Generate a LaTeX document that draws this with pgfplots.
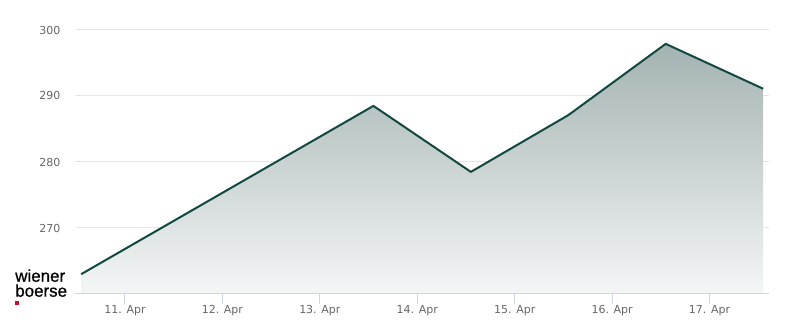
\documentclass[border=0pt]{standalone}
\usepackage{fontspec}
\setmainfont{DejaVu Sans}
\newfontfamily\logofont[FakeBold=0.8]{Liberation Sans}
\usepackage{pgfplots}
\pgfplotsset{compat=1.18}
\definecolor{linec}{RGB}{17,72,66}
\definecolor{topc}{RGB}{163,179,177}
\definecolor{botc}{RGB}{244,246,246}
\definecolor{gridc}{RGB}{230,230,230}
\definecolor{axisc}{RGB}{204,214,235}
\definecolor{labc}{RGB}{102,102,102}
\definecolor{wbred}{RGB}{200,16,46}
\begin{document}
\begin{tikzpicture}
\useasboundingbox (0,0) rectangle (600pt,243pt);
\begin{axis}[
  scale only axis,
  width=520.5pt, height=212.85pt,
  at={(56.25pt,22.5pt)}, anchor=south west,
  xmin=-0.513, xmax=6.61, ymin=260, ymax=303,
  axis line style={draw=none},
  ytick={270,280,290,300},
  ymajorgrids, grid style={gridc, line width=0.75pt},
  ytick style={draw=none},
  xtick={0,1,2,3,4,5,6},
  xticklabels={11. Apr,12. Apr,13. Apr,14. Apr,15. Apr,16. Apr,17. Apr},
  xtick pos=bottom, tick align=outside,
  major tick length=7.5pt,
  xtick style={axisc, line width=0.75pt},
  tick label style={font=\fontsize{8.25}{10}\selectfont, text=labc},
  yticklabel style={xshift=0pt},
  xticklabel style={yshift=2.5pt},
  /pgf/number format/assume math mode=true,
  clip=false,
]
\addplot[draw=none, top color=topc, bottom color=botc] table {
x y
-0.45 263.0
2.55 288.5
3.55 278.5
4.55 287.1
5.55 297.9
6.55 291.1
} |- (axis cs:-0.45,260) -- cycle;
\draw[axisc, line width=0.75pt] (rel axis cs:0,0) -- (rel axis cs:1,0);
\addplot[linec, line width=1.5pt, line join=round] table {
x y
-0.45 263.0
2.55 288.5
3.55 278.5
4.55 287.1
5.55 297.9
6.55 291.1
};
\end{axis}
\node[anchor=base west, inner sep=0pt, font=\logofont\fontsize{12.7}{15}\selectfont] at (11.25pt,31.7pt) {wiener};
\node[anchor=base west, inner sep=0pt, font=\logofont\fontsize{12.7}{15}\selectfont] at (11.25pt,20.5pt) {boerse};
\fill[wbred] (11.25pt,14pt) rectangle (14.25pt,17pt);
\end{tikzpicture}
\end{document}
